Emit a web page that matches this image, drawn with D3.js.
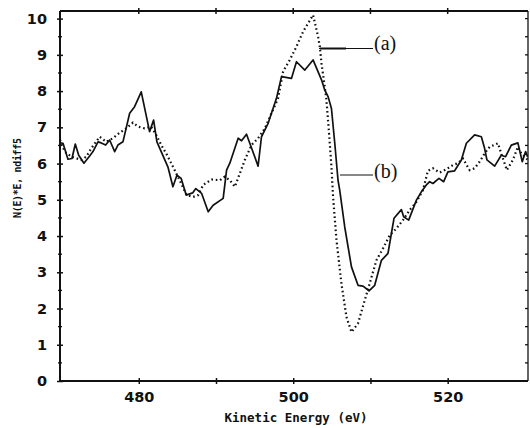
<!DOCTYPE html>
<html>
<head>
<meta charset="utf-8">
<script src="https://cdn.jsdelivr.net/npm/d3@7"></script>
<style>
  body { margin: 0; background: #fff; }
  .tick-label { font-family: "DejaVu Sans", sans-serif; font-weight: bold; font-size: 14.5px; fill: #111; }
  .axis-title { font-family: "DejaVu Sans Mono", monospace; font-weight: bold; fill: #111; }
  .legend-text { font-family: "Liberation Serif", "Times New Roman", serif; font-size: 20px; fill: #111; }
</style>
</head>
<body>
<div class="chart-container"></div>
<script>
// curva (a): punteada
const energyA = [469.8, 470.41, 471.26, 472.56, 473.2, 473.85, 474.94, 475.79, 476.66, 477.52, 478.38, 479.24, 479.89,
  480.76, 481.61, 482.26, 482.91, 483.55, 484.2, 484.85, 485.29, 486.19, 487.04, 487.69, 488.34, 489.43, 490.5,
  491.15, 491.79, 492.44, 493.09, 493.73, 494.6, 495.45, 496.32, 497.19, 498.04, 498.69, 499.56, 500.42, 501.28,
  501.92, 502.57, 503.22, 503.44, 503.66, 504.08, 504.3, 504.64, 504.95, 505.16, 505.6, 506.24, 506.89, 507.54,
  508.39, 509.26, 509.9, 510.77, 511.63, 512.49, 513.36, 514.21, 515.08, 515.95, 516.8, 517.44, 518.09, 518.96,
  519.82, 520.68, 521.33, 521.97, 522.84, 523.49, 524.13, 524.78, 525.43, 526.5, 527.15, 527.67, 528.44, 529.09,
  529.53, 530.38]
const valuesA = [6.65, 6.33, 6.19, 6.10, 6.19, 6.42, 6.74, 6.60, 6.70, 6.85, 6.97, 7.13, 7.02,
  6.97, 7.02, 6.79, 6.51, 6.28, 6.01, 5.73, 5.54, 5.13, 5.08, 5.13, 5.41, 5.56, 5.54,
  5.64, 5.54, 5.36, 5.73, 6.10, 6.51, 6.70, 6.97, 7.39, 7.80, 8.54, 8.86, 9.23, 9.64,
  9.87, 10.10, 9.50, 9.23, 8.77, 8.12, 7.75, 6.83, 5.91, 5.08, 3.89, 2.69, 1.77, 1.35,
  1.59, 2.23, 2.69, 3.33, 3.66, 4.02, 4.21, 4.44, 4.72, 4.94, 5.27, 5.80, 5.87, 5.75,
  5.84, 5.96, 6.01, 6.14, 5.82, 5.87, 6.05, 6.28, 6.46, 6.56, 6.14, 5.82, 6.10, 6.46,
  6.28, 6.10]

// curva (b): continua
const energyB = [469.8, 470.19, 470.83, 471.35, 471.78, 472.22, 472.9, 473.64, 474.07, 474.72, 475.14, 475.71, 476.23,
  476.88, 477.3, 477.95, 478.82, 479.46, 480.32, 481.4, 481.92, 482.35, 483.77, 484.42, 484.94, 485.49, 486.14,
  486.97, 487.39, 488.13, 488.99, 489.63, 490.93, 491.37, 491.79, 492.87, 493.31, 493.95, 495.45, 495.89, 496.75,
  497.83, 498.48, 499.77, 500.42, 501.5, 502.57, 503.66, 504.08, 504.51, 504.95, 505.38, 505.8, 506.02, 506.67,
  507.54, 508.39, 509.04, 509.81, 510.55, 511.42, 512.27, 512.71, 513.05, 514.0, 514.3, 514.95, 515.95, 516.59,
  517.24, 517.67, 518.09, 518.87, 519.48, 520.03, 520.9, 521.77, 522.42, 523.49, 524.36, 524.78, 525.08, 526.08,
  526.94, 527.5, 528.24, 529.09, 529.66, 530.09, 530.34]
const valuesB = [6.57, 6.56, 6.12, 6.14, 6.54, 6.23, 6.01, 6.21, 6.33, 6.60, 6.57, 6.51, 6.65,
  6.33, 6.51, 6.60, 7.39, 7.57, 7.98, 6.88, 7.20, 6.60, 5.91, 5.36, 5.68, 5.59, 5.13,
  5.19, 5.31, 5.18, 4.67, 4.85, 5.04, 5.82, 6.01, 6.70, 6.63, 6.81, 5.93, 6.74, 7.11,
  7.80, 8.40, 8.35, 8.81, 8.58, 8.86, 8.31, 8.03, 7.85, 7.52, 6.56, 5.54, 5.27, 4.25,
  3.15, 2.64, 2.62, 2.49, 2.64, 3.33, 3.52, 4.07, 4.49, 4.73, 4.53, 4.44, 4.99, 5.22,
  5.41, 5.50, 5.45, 5.59, 5.50, 5.77, 5.80, 6.10, 6.56, 6.79, 6.74, 6.42, 6.10, 5.93,
  6.23, 6.19, 6.51, 6.57, 6.05, 6.33, 6.19]

const xTicks = [480, 490, 500, 510, 520]
const xLabels = [480, 500, 520]
const yTicks = [0, 1, 2, 3, 4, 5, 6, 7, 8, 9, 10]
const yMinor = [0.5, 1.5, 2.5, 3.5, 4.5, 5.5, 6.5, 7.5, 8.5, 9.5]
const legendLabels = ["(a)", "(b)"]
const xTitle = "Kinetic Energy (eV)"
const yTitle = "N(E)*E, ndiff5"

const WIDTH = 530
const HEIGHT = 428
const margin = { top: 11, bottom: 47, left: 60, right: 2 }

const svg = d3.select(".chart-container")
  .append("svg")
  .attr("width", WIDTH)
  .attr("height", HEIGHT)

const xScale = d3.scaleLinear().domain([469.8, 530.4]).range([margin.left, WIDTH - margin.right])
const yScale = d3.scaleLinear().domain([0, 10.21]).range([HEIGHT - margin.bottom, margin.top])

const x0 = xScale.range()[0], x1 = xScale.range()[1]
const y0 = yScale.range()[0], y1 = yScale.range()[1]

// Lineas
const lineGenerator = d3.line()
  .x(d => xScale(d[0]))
  .y(d => yScale(d[1]))

const serieA = energyA.map((e, i) => [e, valuesA[i]])
const serieB = energyB.map((e, i) => [e, valuesB[i]])

svg.append("path")
  .attr("d", lineGenerator(serieA))
  .attr("fill", "none")
  .attr("stroke", "#111")
  .attr("stroke-width", 2.2)
  .attr("stroke-dasharray", "1.6,2.8")

svg.append("path")
  .attr("d", lineGenerator(serieB))
  .attr("fill", "none")
  .attr("stroke", "#111")
  .attr("stroke-width", 1.7)
  .attr("stroke-linejoin", "round")

// Marco
const frame = svg.append("g").attr("stroke", "#111").attr("fill", "none")
frame.append("line").attr("x1", x0).attr("x2", x0).attr("y1", y1).attr("y2", y0).attr("stroke-width", 2)
frame.append("line").attr("x1", x0).attr("x2", x1).attr("y1", y0).attr("y2", y0).attr("stroke-width", 2)
frame.append("line").attr("x1", x0).attr("x2", x1).attr("y1", y1).attr("y2", y1).attr("stroke-width", 1.8)
frame.append("line").attr("x1", x1).attr("x2", x1).attr("y1", y1).attr("y2", y0).attr("stroke-width", 1.3)

// Eje Y
const yAxis = svg.append("g")
  .attr("transform", `translate(${x0}, 0)`)
  .call(d3.axisLeft(yScale).tickValues(yTicks).tickSize(3).tickPadding(10).tickFormat(d3.format("d")))
yAxis.select(".domain").remove()
yAxis.selectAll(".tick line").attr("x1", 3).attr("stroke", "#111").attr("stroke-width", 1.5)
yAxis.selectAll(".tick text").attr("class", "tick-label").attr("font-size", null).attr("font-family", null)

svg.append("g")
  .selectAll("line")
  .data(yMinor)
  .join("line")
  .attr("x1", x0 - 2).attr("x2", x0 + 2)
  .attr("y1", d => yScale(d)).attr("y2", d => yScale(d))
  .attr("stroke", "#111").attr("stroke-width", 1.3)

// ticks del borde derecho
svg.append("g")
  .selectAll("line")
  .data(yTicks.concat(yMinor))
  .join("line")
  .attr("x1", x1 - 3).attr("x2", x1)
  .attr("y1", d => yScale(d)).attr("y2", d => yScale(d))
  .attr("stroke", "#111").attr("stroke-width", 1.3)

// Eje X
const xAxis = svg.append("g")
  .attr("transform", `translate(0, ${y0})`)
  .call(d3.axisBottom(xScale).tickValues(xTicks).tickSize(3).tickPadding(8)
    .tickFormat(d => xLabels.includes(d) ? d : ""))
xAxis.select(".domain").remove()
xAxis.selectAll(".tick line").attr("y1", -3).attr("stroke", "#111").attr("stroke-width", 1.5)
xAxis.selectAll(".tick text").attr("class", "tick-label").attr("font-size", null).attr("font-family", null)

svg.append("g")
  .selectAll("line")
  .data(xTicks)
  .join("line")
  .attr("x1", d => xScale(d)).attr("x2", d => xScale(d))
  .attr("y1", y1 - 3).attr("y2", y1 + 3)
  .attr("stroke", "#111").attr("stroke-width", 1.5)

// Titulos
svg.append("text")
  .attr("class", "axis-title")
  .attr("x", 296).attr("y", 422)
  .attr("text-anchor", "middle")
  .attr("font-size", 12.5)
  .text(xTitle)

svg.append("text")
  .attr("class", "axis-title")
  .attr("transform", "translate(21, 178) rotate(-90)")
  .attr("text-anchor", "middle")
  .attr("font-size", 10)
  .attr("textLength", 80)
  .text(yTitle)

// Leyendas
const legendA = svg.append("g")
legendA.append("line")
  .attr("x1", 319).attr("x2", 373).attr("y1", 48.5).attr("y2", 48.5)
  .attr("stroke", "#111").attr("stroke-width", 1)
legendA.append("line")
  .attr("x1", 320).attr("x2", 346).attr("y1", 48.5).attr("y2", 48.5)
  .attr("stroke", "#111").attr("stroke-width", 2)
legendA.append("text").attr("class", "legend-text").attr("x", 374).attr("y", 50).text(legendLabels[0])

const legendB = svg.append("g")
legendB.append("line")
  .attr("x1", 340).attr("x2", 373).attr("y1", 175).attr("y2", 175)
  .attr("stroke", "#111").attr("stroke-width", 1)
legendB.append("text").attr("class", "legend-text").attr("x", 374).attr("y", 178).text(legendLabels[1])
</script>
</body>
</html>
